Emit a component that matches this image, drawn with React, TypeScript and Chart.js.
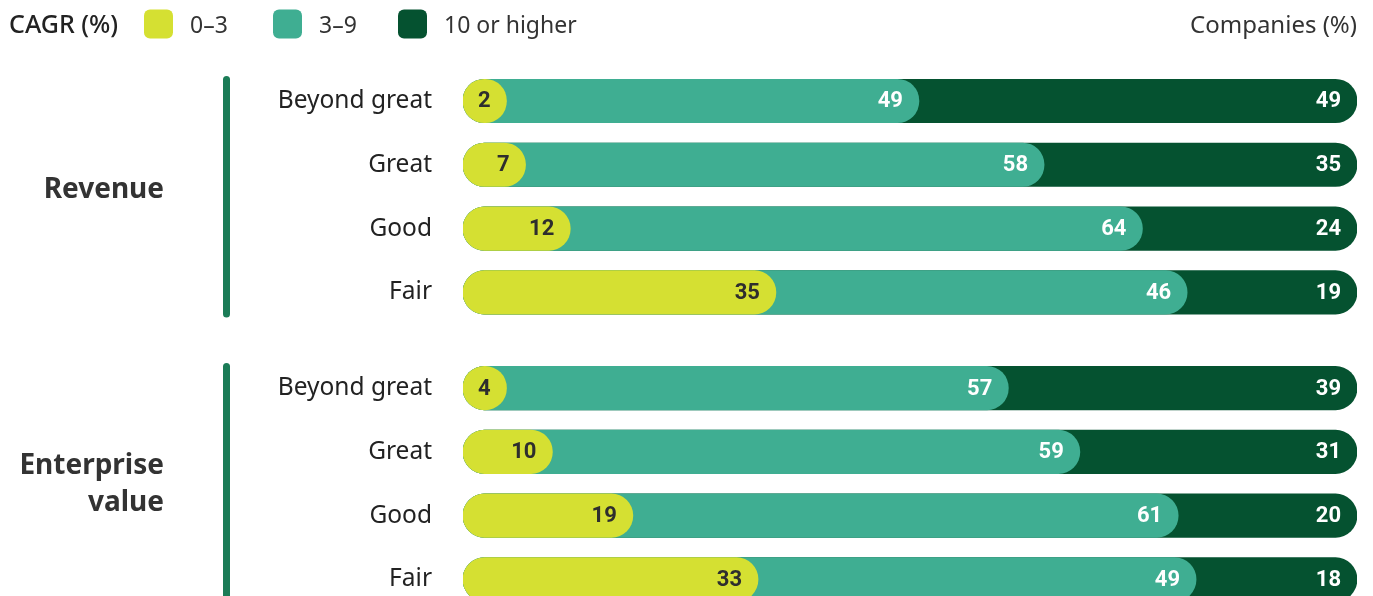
import React, { useEffect, useRef } from 'react';
import { Chart, registerables } from 'chart.js';

Chart.register(...registerables);

// ---------- data ----------
const groups = ['Revenue', 'Enterprise value'];
const categories = ['Beyond great', 'Great', 'Good', 'Fair'];
const revenueLow = [2, 7, 12, 35];
const revenueMid = [49, 58, 64, 46];
const revenueHigh = [49, 35, 24, 19];
const evLow = [4, 10, 19, 33];
const evMid = [57, 59, 61, 49];
const evHigh = [39, 31, 20, 18];
const legendTitle = 'CAGR (%)';
const seriesNames = ['0–3', '3–9', '10 or higher'];
const axisTitle = 'Companies (%)';

// ---------- style / layout ----------
const COLORS = ['#d5e032', '#3fae92', '#055230'];
const LABEL_COLORS = ['#2e2e2e', '#ffffff', '#ffffff'];
const LINE_COLOR = '#1b7c57';
const TEXT = '#222222';
const FONT = '"Noto Sans", "Open Sans", sans-serif';
const GROUP_GAP = 0.5;
const BAR_H = 43.5;
const CANVAS_W = 1373;
const CANVAS_H = 673;

const lowAll = [...revenueLow, ...evLow];
const midAll = [...revenueMid, ...evMid];
const highAll = [...revenueHigh, ...evHigh];
const labelsAll = [...categories, ...categories];
const positions: number[] = [];
groups.forEach((_, g) => {
  categories.forEach((_, i) => positions.push(g * (categories.length + GROUP_GAP) + i));
});

const segValues = [lowAll, midAll, highAll];
const cumulative = [
  lowAll,
  lowAll.map((v, k) => v + midAll[k]),
  lowAll.map((v, k) => v + midAll[k] + highAll[k]),
];

const Y_MIN = -0.75;
const Y_MAX = 8.25;

export default function App() {
  const ref = useRef<HTMLCanvasElement>(null);

  useEffect(() => {
    if (!ref.current) return;

    const valueLabels = {
      id: 'valueLabels',
      afterDatasetsDraw(chart: any) {
        const ctx = chart.ctx;
        ctx.save();
        ctx.font = `bold 22px Roboto, ${FONT}`;
        ctx.textAlign = 'right';
        ctx.textBaseline = 'middle';
        chart.data.datasets.forEach((_: any, di: number) => {
          const meta = chart.getDatasetMeta(di);
          meta.data.forEach((bar: any, k: number) => {
            ctx.fillStyle = LABEL_COLORS[di];
            ctx.fillText(String(segValues[di][k]), bar.x - 16, bar.y + 1);
          });
        });
        ctx.restore();
      },
    };

    const decorations = {
      id: 'decorations',
      afterDraw(chart: any) {
        const ctx = chart.ctx;
        const y = chart.scales.y;
        ctx.save();
        // legend
        ctx.textBaseline = 'middle';
        ctx.textAlign = 'left';
        ctx.fillStyle = TEXT;
        ctx.font = `500 25px ${FONT}`;
        ctx.fillText(legendTitle, 9, 26);
        ctx.font = `23px ${FONT}`;
        const swX = [144, 273, 398];
        seriesNames.forEach((name, i) => {
          ctx.fillStyle = COLORS[i];
          ctx.beginPath();
          (ctx as any).roundRect(swX[i], 9.5, 29, 29, 6);
          ctx.fill();
          ctx.fillStyle = '#333';
          ctx.fillText(name, swX[i] + 46, 26);
        });
        ctx.textAlign = 'right';
        ctx.fillStyle = '#333';
        ctx.font = `24px ${FONT}`;
        ctx.fillText(axisTitle, chart.chartArea.right, 26);

        // group brackets + labels
        const per = categories.length;
        groups.forEach((g, gi) => {
          const top = y.getPixelForValue(positions[gi * per]) - 25;
          const bot = y.getPixelForValue(positions[gi * per + per - 1]) + 25;
          ctx.strokeStyle = LINE_COLOR;
          ctx.lineWidth = 7;
          ctx.lineCap = 'round';
          ctx.beginPath();
          ctx.moveTo(226.5, top + 3.5);
          ctx.lineTo(226.5, bot - 3.5);
          ctx.stroke();

          const words = g.split(' ');
          const lines = words.length > 1 ? words : [g];
          const mid = (top + bot) / 2 - (lines.length === 1 ? 7 : -1);
          ctx.font = `bold 28px ${FONT}`;
          ctx.fillStyle = '#333';
          ctx.textAlign = 'right';
          const lh = 37;
          lines.forEach((ln, li) => {
            ctx.fillText(ln, 164, mid + (li - (lines.length - 1) / 2) * lh);
          });
        });
        ctx.restore();
      },
    };

    const chart = new Chart(ref.current, {
      type: 'bar',
      data: {
        datasets: [0, 1, 2].map((di) => ({
          label: seriesNames[di],
          data: positions.map((p, k) => ({ x: cumulative[di][k], y: p })),
          backgroundColor: COLORS[di],
          borderRadius: BAR_H / 2,
          borderSkipped: false,
          barThickness: BAR_H,
          grouped: false,
          minBarLength: di === 0 ? BAR_H : 0,
        })),
      },
      options: {
        indexAxis: 'y',
        animation: false,
        responsive: false,
        devicePixelRatio: 1,
        layout: { padding: { top: 53.15, bottom: 0, left: 0, right: 16 } },
        plugins: { legend: { display: false }, tooltip: { enabled: false } },
        scales: {
          x: { type: 'linear', min: 0, max: 100, display: false },
          y: {
            type: 'linear',
            reverse: true,
            offset: false,
            min: Y_MIN,
            max: Y_MAX,
            grid: { display: false, drawTicks: false, offset: false },
            border: { display: false },
            afterBuildTicks: (scale: any) => {
              scale.ticks = positions.map((v) => ({ value: v }));
            },
            afterFit: (scale: any) => {
              scale.width = 463;
            },
            ticks: {
              autoSkip: false,
              padding: 31,
              color: TEXT,
              font: { family: FONT, size: 24.5 },
              callback: (v: any) => {
                const idx = positions.indexOf(Number(v));
                return idx >= 0 ? labelsAll[idx] : '';
              },
            },
          },
        },
      } as any,
      plugins: [valueLabels, decorations],
    });
    return () => chart.destroy();
  }, []);

  return (
    <div style={{ position: 'fixed', left: 0, top: 0, width: CANVAS_W, height: 596, overflow: 'hidden', background: '#fff' }}>
      <canvas ref={ref} width={CANVAS_W} height={CANVAS_H} style={{ display: 'block', width: CANVAS_W, height: CANVAS_H }} />
    </div>
  );
}
